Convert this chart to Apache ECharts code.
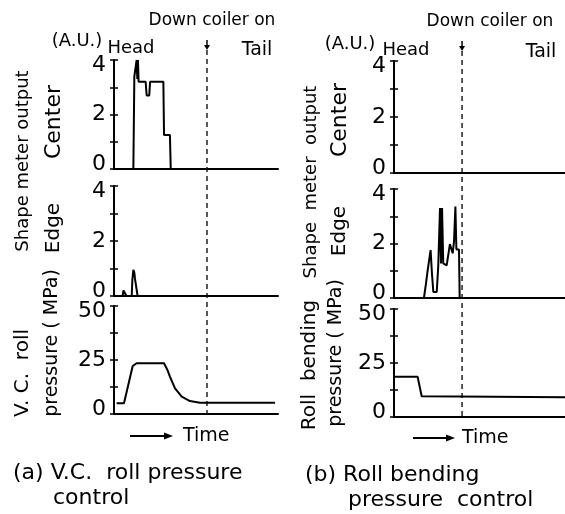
<!DOCTYPE html>
<html>
<head>
<meta charset="utf-8">
<script src="https://cdn.jsdelivr.net/npm/echarts@6/dist/echarts.min.js"></script>
<style>
    html, body { margin: 0; padding: 0; background: #fff; }
    #main { width: 565px; height: 514px; }
</style>
</head>
<body>
<div id="main"></div>
<script>
    // (a) V.C. roll pressure control -- time in arbitrary units 0..100
    var aCenterT = [0, 11.8, 12.4, 13.4, 13.8, 14.2, 14.6, 15.0, 15.9, 19.3, 19.9, 21.5, 22.0, 30.1, 30.5, 34.1, 34.6, 100];
    var aCenterV = [0, 0, 3.4, 3.4, 4.0, 3.3, 4.0, 3.2, 3.2, 3.2, 2.7, 2.7, 3.2, 3.2, 1.25, 1.25, 0, 0];
    var aEdgeT = [0, 5.2, 5.8, 7.0, 7.6, 10.8, 11.2, 11.8, 12.4, 12.8, 14.0, 14.4, 100];
    var aEdgeV = [0, 0, 0.2, 0.2, 0, 0, 0.6, 0.95, 0.85, 0.62, 0.62, 0, 0];
    var aPressT = [1.6, 6.1, 11.4, 13.8, 30.5, 32.5, 34.1, 37.2, 41.3, 46.3, 52.4, 98.2];
    var aPressV = [5, 5, 22.2, 23.5, 23.5, 20.5, 17.3, 11.9, 8.0, 6.0, 5.2, 5.2];
    var aCoilerOn = 56.7;

    // (b) Roll bending pressure control
    var bCenterT = [0, 100];
    var bCenterV = [0, 0];
    var bEdgeT = [0, 17.5, 18.7, 19.7, 20.7, 21.4, 22.2, 23.0, 25.0, 25.9, 26.9, 27.5, 28.1, 28.8, 30.8, 31.8, 32.7, 33.7, 34.3, 35.1, 35.9, 36.5, 38.0, 38.4, 100];
    var bEdgeV = [0, 0, 0.53, 1.02, 1.08, 1.76, 0.9, 0.22, 0.22, 1.2, 3.3, 1.27, 3.3, 1.27, 1.2, 1.14, 1.98, 2.03, 1.64, 2.07, 3.36, 1.78, 1.78, 0, 0];
    var bPressT = [0, 13.8, 16.2, 100];
    var bPressV = [18.6, 18.6, 9.6, 9.1];
    var bCoilerOn = 39.8;

    var outputTicks = [0, 2, 4];
    var pressureTicks = [0, 25, 50];

    var FONT = '"DejaVu Sans", sans-serif';

    function pairs(t, v) {
        return t.map(function (x, i) { return [x, v[i]]; });
    }

    var chart = echarts.init(document.getElementById('main'));

    var grids = [
        {left: 114, top: 60, width: 164, height: 109},
        {left: 114, top: 186, width: 164, height: 110},
        {left: 114, top: 306, width: 164, height: 108},
        {left: 394, top: 61, width: 171, height: 112},
        {left: 394, top: 189, width: 171, height: 109},
        {left: 394, top: 309, width: 171, height: 108}
    ];
    var kinds = ['out', 'out', 'press', 'out', 'out', 'press'];
    var seriesData = [
        pairs(aCenterT, aCenterV), pairs(aEdgeT, aEdgeV), pairs(aPressT, aPressV),
        pairs(bCenterT, bCenterV), pairs(bEdgeT, bEdgeV), pairs(bPressT, bPressV)
    ];

    var labelStyle = {color: '#000', fontSize: 22, fontFamily: FONT};

    var xAxes = [], yAxes = [], series = [];
    grids.forEach(function (g, i) {
        xAxes.push({
            gridIndex: i, type: 'value', min: 0, max: 100,
            axisLine: {lineStyle: {color: '#000', width: 2}},
            axisTick: {show: false}, axisLabel: {show: false}, splitLine: {show: false}
        });
        var isP = kinds[i] === 'press';
        var ticks = isP ? pressureTicks : outputTicks;
        var top = isP ? 50 : 4;
        var base = {
            gridIndex: i, type: 'value', position: 'left', min: 0,
            max: top,
            interval: isP ? 12.5 : 1,
            splitLine: {show: false}
        };
        // outer ticks + labels (end labels pulled inside the axis range)
        yAxes.push(Object.assign({}, base, {
            axisLine: {show: true, lineStyle: {color: '#000', width: 2}},
            axisTick: {show: true, length: 4, lineStyle: {color: '#000', width: 1.5}},
            axisLabel: Object.assign({}, labelStyle, {
                margin: 8,
                formatter: function (v) {
                    if (ticks.indexOf(v) < 0) return '';
                    if (v === top) return '{hi|' + v + '}';
                    if (v === 0) return '{lo|' + v + '}';
                    return String(v);
                },
                rich: {
                    hi: Object.assign({}, labelStyle, {padding: [10, 0, 0, 0]}),
                    lo: Object.assign({}, labelStyle, {padding: [0, 0, 10, 0]})
                }
            })
        }));
        // inner half of the ticks so they cross the axis
        yAxes.push(Object.assign({}, base, {
            axisLine: {show: false},
            axisTick: {show: true, inside: true, length: 4, lineStyle: {color: '#000', width: 1.5}},
            axisLabel: {show: false}
        }));
        series.push({
            type: 'line', xAxisIndex: i, yAxisIndex: 2 * i,
            data: seriesData[i], showSymbol: false, animation: false,
            lineStyle: {color: '#000', width: 2}
        });
    });

    function txt(x, y, s, size, rot, align) {
        return {
            type: 'text', x: x, y: y, rotation: rot || 0,
            style: {
                text: s, fill: '#000', font: (size || 18) + 'px ' + FONT,
                textAlign: align || 'center', textVerticalAlign: 'middle'
            }
        };
    }

    var R = Math.PI / 2;
    var graphics = [
        // panel (a)
        txt(212, 21, 'Down coiler on', 17),
        txt(77, 41, '(A.U.)', 18),
        txt(131, 48, 'Head', 18),
        txt(257, 50, 'Tail', 19),
        txt(23, 161, 'Shape meter output', 18, R),
        txt(54, 122, 'Center', 22, R),
        txt(54, 228, 'Edge', 20, R),
        txt(23, 373, 'V. C.  roll', 20, R),
        txt(52, 343, 'pressure ( MPa)', 19, R),
        txt(183, 436, 'Time', 19, 0, 'left'),
        txt(13, 473, '(a) V.C.  roll pressure', 22, 0, 'left'),
        txt(53, 498, 'control', 22, 0, 'left'),
        // panel (b)
        txt(490, 22, 'Down coiler on', 17),
        txt(350, 44, '(A.U.)', 18),
        txt(406, 50, 'Head', 18),
        txt(541, 52, 'Tail', 19),
        txt(311, 182, 'Shape  meter  output', 18, R),
        txt(340, 120, 'Center', 22, R),
        txt(340, 231, 'Edge', 20, R),
        txt(310, 365, 'Roll  bending', 20, R),
        txt(336, 353, 'pressure ( MPa)', 19, R),
        txt(462, 438, 'Time', 19, 0, 'left'),
        txt(305, 475, '(b) Roll bending', 22, 0, 'left'),
        txt(348, 500, 'pressure  control', 22, 0, 'left')
    ];

    // time arrows
    [[130, 173, 436], [413, 455, 438]].forEach(function (a) {
        graphics.push({type: 'line', shape: {x1: a[0], y1: a[2], x2: a[1] - 6, y2: a[2]}, style: {stroke: '#000', lineWidth: 2}});
        graphics.push({type: 'polygon', shape: {points: [[a[1], a[2]], [a[1] - 9, a[2] - 3.5], [a[1] - 9, a[2] + 3.5]]}, style: {fill: '#000'}});
    });

    chart.setOption({
        animation: false,
        backgroundColor: '#fff',
        grid: grids,
        xAxis: xAxes,
        yAxis: yAxes,
        series: series,
        graphic: graphics
    });

    // dashed "down coiler on" lines through all three plots, placed by the axes
    [[0, 2, aCoilerOn], [3, 5, bCoilerOn]].forEach(function (d) {
        var x = chart.convertToPixel({xAxisIndex: d[0]}, d[2]);
        var yTop = chart.convertToPixel({yAxisIndex: 2 * d[0]}, 4) - 10;
        var yBot = chart.convertToPixel({yAxisIndex: 2 * d[1]}, 0);
        graphics.push({type: 'line', shape: {x1: x, y1: yTop, x2: x, y2: yBot},
            style: {stroke: '#000', lineWidth: 1.3, lineDash: [5, 4]}});
        graphics.push({type: 'line', shape: {x1: x, y1: yTop - 10, x2: x, y2: yTop - 3}, style: {stroke: '#000', lineWidth: 1.5}});
        graphics.push({type: 'polygon', shape: {points: [[x, yTop], [x - 3, yTop - 5], [x + 3, yTop - 5]]}, style: {fill: '#000'}});
    });
    chart.setOption({graphic: graphics});
</script>
</body>
</html>
